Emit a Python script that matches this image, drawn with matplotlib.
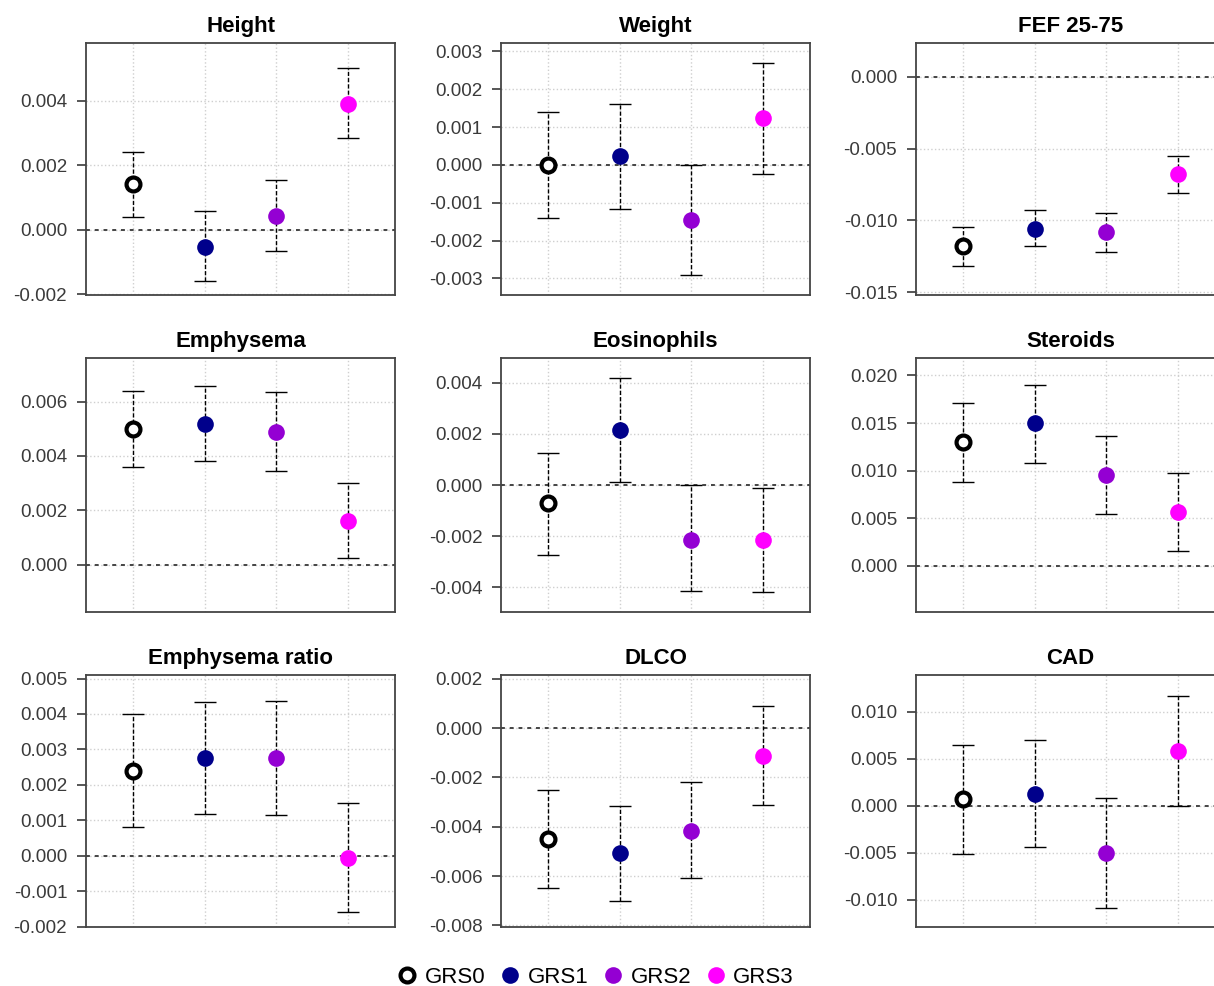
import numpy as np
import matplotlib
matplotlib.use("Agg")
import matplotlib.pyplot as plt
from matplotlib.lines import Line2D
from matplotlib.ticker import MultipleLocator, FuncFormatter

plt.rcParams['font.family'] = ['Liberation Sans', 'DejaVu Sans']

groups = ['GRS0', 'GRS1', 'GRS2', 'GRS3']
colors = ['black', '#00008B', '#9400D3', '#FF00FF']

titles = ['Height', 'Weight', 'FEF 25-75',
          'Emphysema', 'Eosinophils', 'Steroids',
          'Emphysema ratio', 'DLCO', 'CAD']

# estimates and CI bounds (GRS0..GRS3)
height = [0.00141, -0.00053, 0.00043, 0.00390]
height_lo = [0.00040, -0.00160, -0.00067, 0.00283]
height_hi = [0.00240, 0.00058, 0.00154, 0.00500]

weight = [0.00000, 0.00023, -0.00146, 0.00124]
weight_lo = [-0.00141, -0.00117, -0.00291, -0.00024]
weight_hi = [0.00139, 0.00160, 0.00000, 0.00270]

fef = [-0.01182, -0.01057, -0.01082, -0.00679]
fef_lo = [-0.01321, -0.01182, -0.01221, -0.00811]
fef_hi = [-0.01043, -0.00925, -0.00946, -0.00549]

emph = [0.00500, 0.00519, 0.00488, 0.00162]
emph_lo = [0.00360, 0.00382, 0.00345, 0.00025]
emph_hi = [0.00640, 0.00657, 0.00634, 0.00301]

eos = [-0.00069, 0.00215, -0.00214, -0.00214]
eos_lo = [-0.00273, 0.00012, -0.00414, -0.00418]
eos_hi = [0.00127, 0.00420, 0.00000, -0.00013]

ster = [0.01298, 0.01496, 0.00956, 0.00565]
ster_lo = [0.00875, 0.01083, 0.00544, 0.00159]
ster_hi = [0.01711, 0.01898, 0.01369, 0.00978]

ratio = [0.00239, 0.00275, 0.00275, -0.00007]
ratio_lo = [0.00080, 0.00119, 0.00114, -0.00160]
ratio_hi = [0.00400, 0.00433, 0.00437, 0.00148]

dlco = [-0.00450, -0.00508, -0.00417, -0.00113]
dlco_lo = [-0.00648, -0.00702, -0.00610, -0.00312]
dlco_hi = [-0.00251, -0.00316, -0.00220, 0.00091]

cad = [0.00071, 0.00131, -0.00502, 0.00584]
cad_lo = [-0.00513, -0.00438, -0.01086, 0.00000]
cad_hi = [0.00648, 0.00700, 0.00082, 0.01171]

estimates = [height, weight, fef, emph, eos, ster, ratio, dlco, cad]
lowers = [height_lo, weight_lo, fef_lo, emph_lo, eos_lo, ster_lo, ratio_lo, dlco_lo, cad_lo]
uppers = [height_hi, weight_hi, fef_hi, emph_hi, eos_hi, ster_hi, ratio_hi, dlco_hi, cad_hi]

ylims = [(-0.00202, 0.00578), (-0.00344, 0.00322), (-0.0152, 0.00236),
         (-0.00174, 0.0076), (-0.00497, 0.00497), (-0.00487, 0.02184),
         (-0.00201, 0.0051), (-0.00807, 0.00216), (-0.0129, 0.01393)]
steps = [0.002, 0.001, 0.005, 0.002, 0.002, 0.005, 0.001, 0.002, 0.005]

W, H = 1214, 986
fig = plt.figure(figsize=(W / 100, H / 100), dpi=100)

col_left = [86, 501, 916]
row_top = [43, 358, 675]
row_bot = [295, 612, 927]
pw = 309

x = np.arange(1, 5)
fmt = FuncFormatter(lambda v, p: '%.3f' % (0.0 if abs(v) < 1e-12 else v))

for i in range(9):
    r, c = divmod(i, 3)
    ax = fig.add_axes([col_left[c] / W, 1 - row_bot[r] / H, pw / W,
                       (row_bot[r] - row_top[r]) / H])
    est = np.array(estimates[i])
    lo = np.array(lowers[i])
    hi = np.array(uppers[i])

    ax.set_xlim(0.34, 4.66)
    ax.set_ylim(*ylims[i])
    ax.yaxis.set_major_locator(MultipleLocator(steps[i]))
    ax.yaxis.set_major_formatter(fmt)
    ax.set_xticks(x)
    ax.tick_params(axis='x', length=0, labelbottom=False)
    ax.tick_params(axis='y', length=6.5, width=1.2, colors='#3a3a3a',
                   labelsize=13.5, pad=7)
    ax.grid(True, color='#cfcfcf', linestyle=':', linewidth=1)
    ax.set_axisbelow(True)
    for s in ax.spines.values():
        s.set_color('#444444')
        s.set_linewidth(1.3)

    ax.axhline(0, color='#444444', linestyle=(0, (2, 2.5)), linewidth=1.4, zorder=1)

    eb = ax.errorbar(x, est, yerr=[est - lo, hi - est], fmt='none',
                     ecolor='black', elinewidth=1, capsize=8, capthick=1, zorder=2)
    eb[2][0].set_linestyle((0, (3, 1.5)))

    for k in range(4):
        if k == 0:
            ax.plot(x[k], est[k], 'o', ms=10, mfc='white', mec='black', mew=3, zorder=3)
        else:
            ax.plot(x[k], est[k], 'o', ms=12, mfc=colors[k], mec=colors[k], mew=0, zorder=3)

    ax.set_title(titles[i], fontsize=16, fontweight='bold', pad=8)

handles = [Line2D([], [], marker='o', linestyle='none', ms=10, mfc='white',
                  mec='black', mew=3)]
handles += [Line2D([], [], marker='o', linestyle='none', ms=12, mfc=colors[k],
                   mec=colors[k], mew=0) for k in range(1, 4)]
fig.legend(handles, groups, loc='lower center', bbox_to_anchor=(0.49, -0.022),
           ncol=4, frameon=False, fontsize=16, handletextpad=0.3,
           columnspacing=0.6, handlelength=1.0)

fig.savefig('out.png', dpi=100)
